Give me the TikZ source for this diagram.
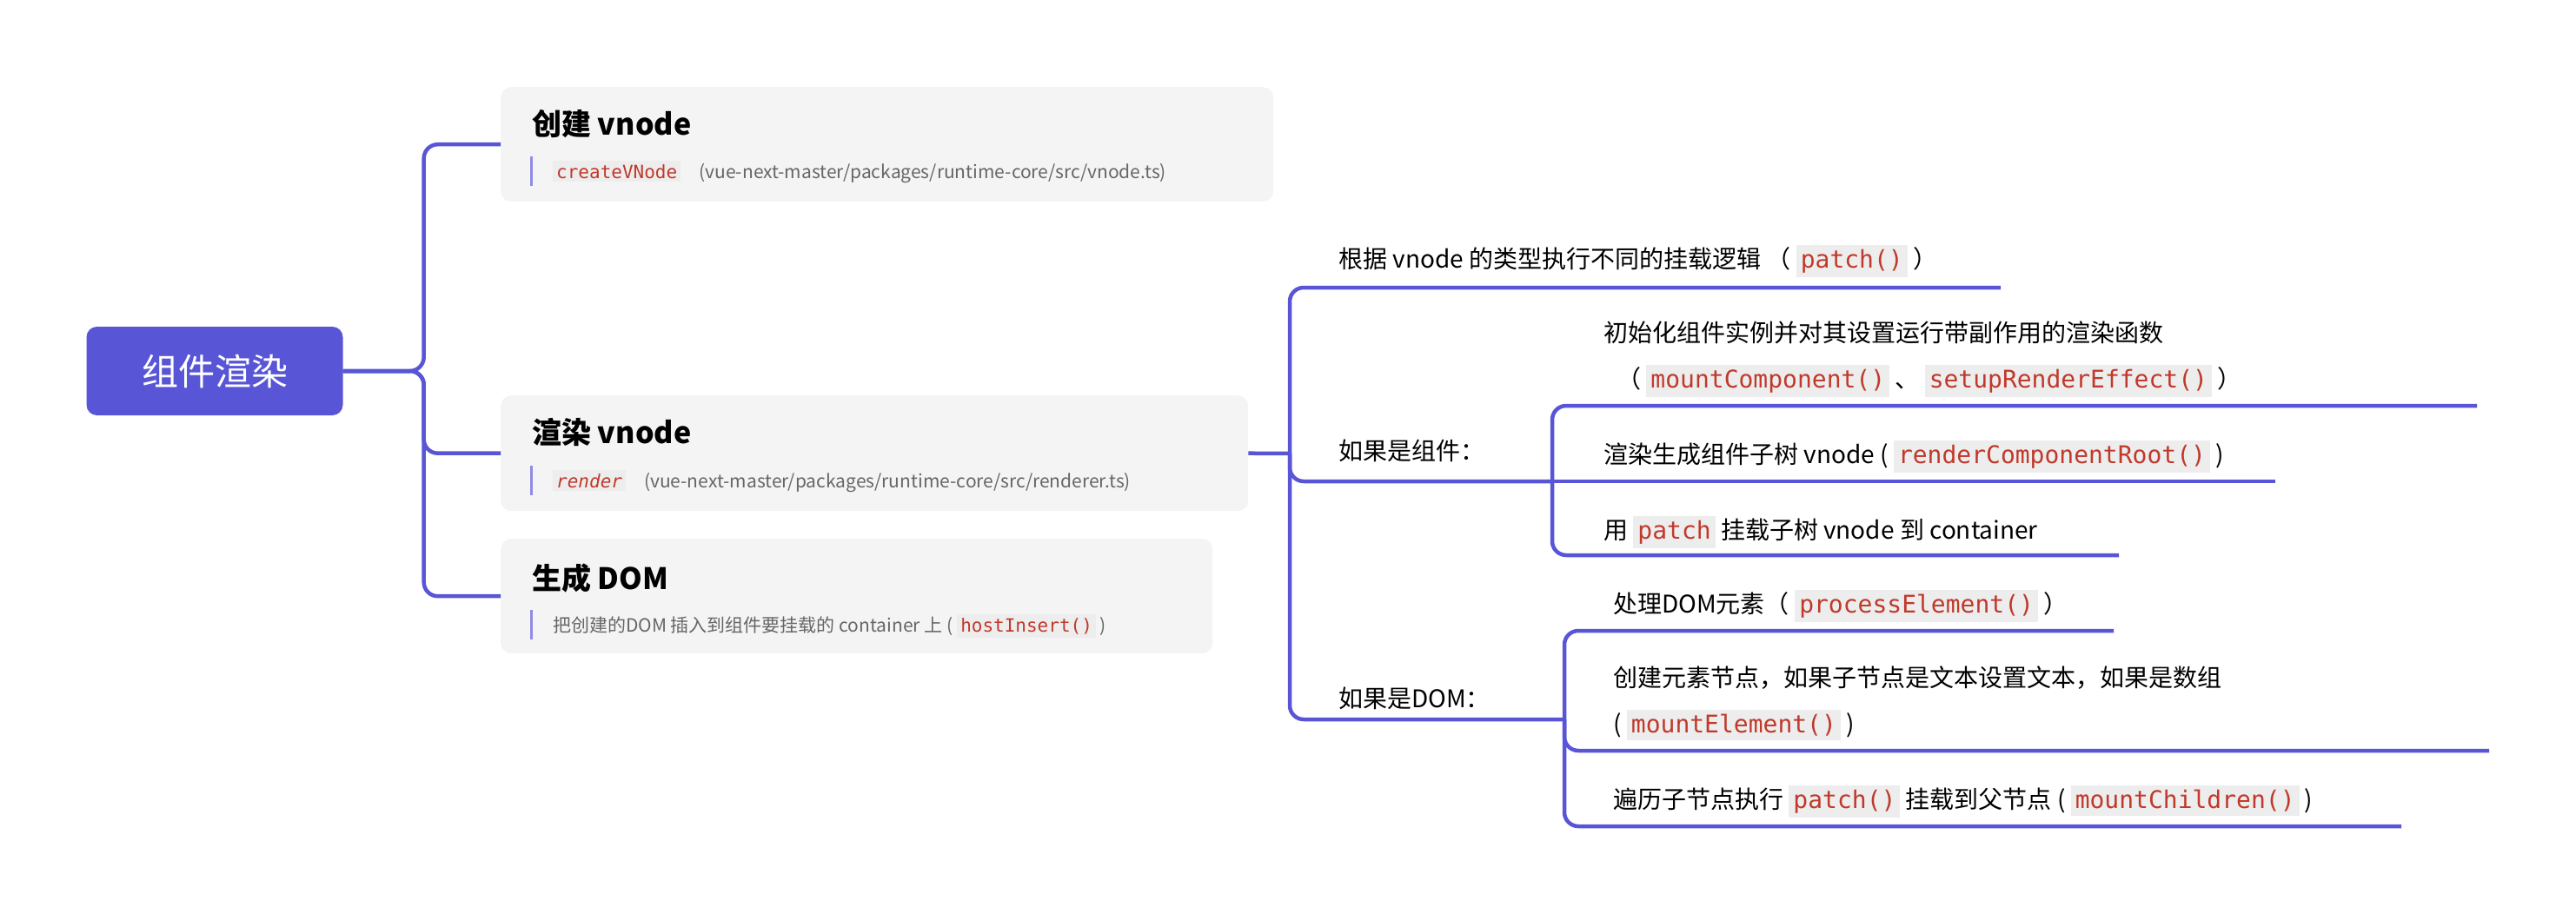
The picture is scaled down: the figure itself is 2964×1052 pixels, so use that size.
\documentclass[tikz,border=0pt]{standalone}
\usepackage{fontspec}
\setmainfont{Noto Sans CJK SC}
\setmonofont{DejaVu Sans Mono}
\definecolor{mmblue}{HTML}{5856D6}
\definecolor{barblue}{HTML}{8E8CE6}
\definecolor{boxgray}{HTML}{F4F4F4}
\definecolor{codebg}{HTML}{EDEDED}
\definecolor{codered}{HTML}{C0392B}
\definecolor{subgray}{HTML}{666666}
\newcommand{\code}[1]{{\setlength{\fboxsep}{5pt}\colorbox{codebg}{\textcolor{codered}{\ttfamily #1}}}}
\newcommand{\codes}[1]{{\setlength{\fboxsep}{4pt}\colorbox{codebg}{\textcolor{codered}{\ttfamily #1}}}}
\tikzset{
  link/.style={draw=mmblue, line width=4.5pt, rounded corners=16pt},
  topic/.style={fill=boxgray, rounded corners=12pt, anchor=north west, minimum height=132pt},
  leaf/.style={anchor=base west, inner sep=0pt, font=\fontsize{28}{34}\selectfont},
  title/.style={anchor=base west, inner sep=0pt, font=\fontsize{34}{40}\selectfont\bfseries},
  subline/.style={anchor=base west, inner sep=0pt, font=\fontsize{21}{26}\selectfont, text=subgray},
  vbar/.style={draw=barblue, line width=3pt}
}
\begin{document}
\begin{tikzpicture}[x=1pt,y=-1pt]
\useasboundingbox (0,0) rectangle (2964,1052);
% root
\node[fill=mmblue, rounded corners=12pt, minimum width=295pt, minimum height=102pt,
  text=white, font=\fontsize{42}{48}\selectfont] (root) at (247,427) {组件渲染};
% first level topics
\node[topic, minimum width=889pt] (b1) at (576,100) {};
\node[topic, minimum width=860pt, minimum height=133pt] (b2) at (576,455) {};
\node[topic, minimum width=819pt] (b3) at (576,620) {};
\node[title] (t1) at (612,155) {创建 vnode};
\draw[vbar] (611,180) -- (611,214);
\node[subline] (s1) at (636,205) {\codes{createVNode}\quad (vue-next-master/packages/runtime-core/src/vnode.ts)};
\node[title] (t2) at (612,510) {渲染 vnode};
\draw[vbar] (611,536) -- (611,570);
\node[subline] (s2) at (636,561) {\codes{\itshape render}\quad \itshape (vue-next-master/packages/runtime-core/src/renderer.ts)};
\node[title] (t3) at (612,678) {生成 DOM};
\draw[vbar] (611,702) -- (611,736);
\node[subline] (s3) at (636,727) {把创建的DOM 插入到组件要挂载的 container 上 ( \codes{hostInsert()} )};
\draw[link] (root.east) -- ++(93,0) |- (b1.west);
\draw[link] (root.east) -- ++(93,0) |- (b2.west);
\draw[link] (root.east) -- ++(93,0) |- (b3.west);
% second level
\coordinate (sp) at (1484,522);
\coordinate (u1) at (2302,331);
\coordinate (ucomp) at (1786,554);
\coordinate (udom) at (1800,828);
\draw[link] (b2.east) -- (sp);
\draw[link] (sp) |- (u1);
\draw[link] (sp) |- (ucomp);
\draw[link] (sp) |- (udom);
\node[leaf] (l1) at (1540,308) {根据 vnode 的类型执行不同的挂载逻辑 （ \code{patch()} ）};
\node[leaf] (lcomp) at (1540,529) {如果是组件：};
\node[leaf] (ldom) at (1540,814) {如果是DOM：};
% component children
\coordinate (c1) at (2850,467);
\coordinate (c2) at (2618,554);
\coordinate (c3) at (2438,639);
\draw[link] (ucomp) |- (c1);
\draw[link] (ucomp) -- (c2);
\draw[link] (ucomp) |- (c3);
\node[leaf] (lc1) at (1845,393) {初始化组件实例并对其设置运行带副作用的渲染函数};
\node[leaf] (lc1b) at (1860,446) {（ \code{mountComponent()} 、 \code{setupRenderEffect()} ）};
\node[leaf] (lc2) at (1845,533) {渲染生成组件子树 vnode ( \code{renderComponentRoot()} )};
\node[leaf] (lc3) at (1845,620) {用 \code{patch} 挂载子树 vnode 到 container};
% dom children
\coordinate (d1) at (2432,726);
\coordinate (d2) at (2864,864);
\coordinate (d3) at (2763,951);
\draw[link] (udom) |- (d1);
\draw[link] (udom) |- (d2);
\draw[link] (udom) |- (d3);
\node[leaf] (ld1) at (1856,705) {处理DOM元素（ \code{processElement()} ）};
\node[leaf] (ld2) at (1856,790) {创建元素节点，如果子节点是文本设置文本，如果是数组};
\node[leaf] (ld2b) at (1856,843) {( \code{mountElement()} )};
\node[leaf] (ld3) at (1856,930) {遍历子节点执行 \code{patch()} 挂载到父节点 ( \code{mountChildren()} )};
\end{tikzpicture}
\end{document}
